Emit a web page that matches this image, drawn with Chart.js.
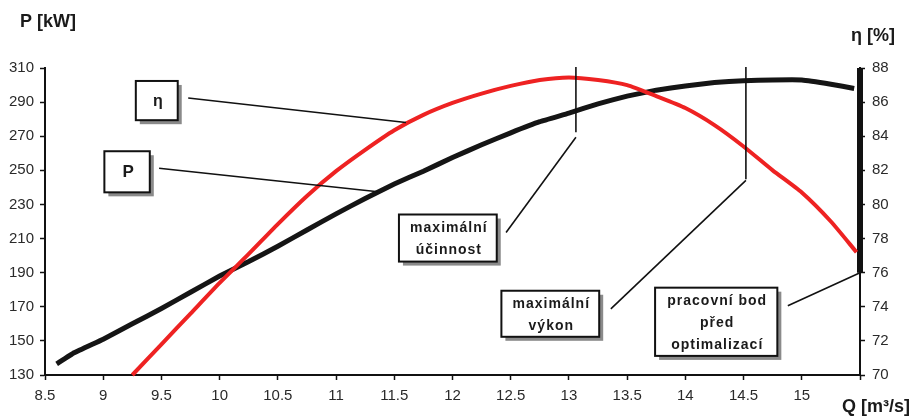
<!DOCTYPE html>
<html lang="cs">
<head>
    <meta charset="UTF-8">
    <title>P a η v závislosti na Q</title>
    <script src="https://cdn.jsdelivr.net/npm/chart.js"></script>
    <style>
        body { margin: 0; background: #fff; }
        canvas { display: block; }
    </style>
</head>
<body>
    <canvas id="chart" width="912" height="416"></canvas>

    <script>
        // prutok Q [m3/s] a vykon P [kW] (cerna krivka)
        const qVykon = [8.6, 8.75, 9.0, 9.25, 9.5, 9.75, 10.0, 10.25, 10.5, 10.75, 11.0, 11.25, 11.5, 11.75,
                        12.0, 12.25, 12.5, 12.75, 13.0, 13.25, 13.5, 13.75, 14.0, 14.25, 14.5, 14.75, 15.0, 15.25, 15.45];
        const vykon = [136.5, 143, 151, 160, 169, 178.5, 188, 196.5, 205.5, 215, 224.5, 233.5, 242, 249.5,
                       257.5, 265, 272, 278.5, 283.5, 289, 293.5, 297, 299.5, 301.5, 302.5, 303, 303, 300.5, 298];

        // prutok Q [m3/s] a ucinnost η [%] (cervena krivka)
        const qUcinnost = [9.25, 9.5, 9.75, 10.0, 10.25, 10.5, 10.75, 11.0, 11.25, 11.5, 11.75, 12.0, 12.25,
                           12.5, 12.75, 13.0, 13.25, 13.5, 13.75, 14.0, 14.25, 14.5, 14.75, 15.0, 15.25, 15.47];
        const ucinnost = [70.0, 71.8, 73.6, 75.4, 77.1, 78.85, 80.5, 81.95, 83.2, 84.35, 85.25, 85.95, 86.5,
                          86.95, 87.3, 87.45, 87.3, 87.0, 86.35, 85.65, 84.65, 83.4, 82.0, 80.7, 79.0, 77.2];

        // pracovni bod pred optimalizaci (silna cara na prave ose)
        const qPracovni = [15.5, 15.5];
        const ucinnostPracovni = [76, 88];

        // osy
        const osaQ = { min: 8.5, max: 15.5, krok: 0.5 };
        const osaP = { min: 130, max: 310, krok: 20 };
        const osaEta = { min: 70, max: 88, krok: 2 };

        const pismo = "Arial, 'Liberation Sans', sans-serif";

        function body(xs, ys) {
            return xs.map((x, i) => ({ x: x, y: ys[i] }));
        }

        // popisky se stinem (souradnice v jednotkach Q a P)
        const popisky = [
            { text: ['η'], box: [9.28, 9.64, 302.4, 279.4], velikost: 16,
              cara: [9.73, 292.4, 11.6, 84.8, 'y1'] },
            { text: ['P'], box: [9.01, 9.40, 261.2, 237.1], velikost: 17,
              cara: [9.48, 251.2, 11.36, 237.4, 'y'] },
            { text: ['maximální', 'účinnost'], box: [11.54, 12.38, 224.1, 196.5], velikost: 14,
              cara: [12.46, 213.5, 13.06, 269.4, 'y'], svisla: [13.06, 310.6, 272.4] },
            { text: ['maximální', 'výkon'], box: [12.42, 13.26, 179.4, 152.4], velikost: 14,
              cara: [13.36, 168.8, 14.52, 244.1, 'y'], svisla: [14.52, 310.6, 244.7] },
            { text: ['pracovní bod', 'před', 'optimalizací'], box: [13.74, 14.79, 181.2, 141.2], velikost: 14,
              cara: [14.88, 170.6, 15.5, 76, 'y1'] }
        ];

        const popiskyPlugin = {
            id: 'popisky',
            afterDatasetsDraw(chart) {
                const ctx = chart.ctx;
                const sx = chart.scales.x;
                const sy = chart.scales.y;
                const osy = { y: sy, y1: chart.scales.y1 };
                ctx.save();
                popisky.forEach(p => {
                    ctx.strokeStyle = '#111';
                    ctx.lineWidth = 1.6;
                    ctx.beginPath();
                    ctx.moveTo(sx.getPixelForValue(p.cara[0]), sy.getPixelForValue(p.cara[1]));
                    ctx.lineTo(sx.getPixelForValue(p.cara[2]), osy[p.cara[4]].getPixelForValue(p.cara[3]));
                    ctx.stroke();
                    if (p.svisla) {
                        const vx = sx.getPixelForValue(p.svisla[0]);
                        ctx.beginPath();
                        ctx.moveTo(vx, sy.getPixelForValue(p.svisla[1]));
                        ctx.lineTo(vx, sy.getPixelForValue(p.svisla[2]));
                        ctx.stroke();
                    }

                    const x1 = sx.getPixelForValue(p.box[0]);
                    const x2 = sx.getPixelForValue(p.box[1]);
                    const y1 = sy.getPixelForValue(p.box[2]);
                    const y2 = sy.getPixelForValue(p.box[3]);
                    // stin
                    ctx.fillStyle = '#8a8a8a';
                    ctx.fillRect(x1 + 4, y1 + 4, x2 - x1, y2 - y1);
                    ctx.fillStyle = '#fff';
                    ctx.fillRect(x1, y1, x2 - x1, y2 - y1);
                    ctx.lineWidth = 2;
                    ctx.strokeStyle = '#111';
                    ctx.strokeRect(x1, y1, x2 - x1, y2 - y1);

                    ctx.fillStyle = '#1a1a1a';
                    ctx.font = 'bold ' + p.velikost + 'px ' + pismo;
                    ctx.letterSpacing = p.text[0].length > 1 ? '1px' : '0px';
                    ctx.textAlign = 'center';
                    ctx.textBaseline = 'middle';
                    const radek = 22;
                    const stred = (y1 + y2) / 2 - (p.text.length - 1) * radek / 2;
                    p.text.forEach((t, i) => {
                        ctx.fillText(t, (x1 + x2) / 2 + 1, stred + i * radek + 1);
                    });
                });

                // nazvy os
                ctx.letterSpacing = '0px';
                ctx.fillStyle = '#1a1a1a';
                ctx.font = 'bold 18px ' + pismo;
                ctx.textBaseline = 'alphabetic';
                ctx.textAlign = 'left';
                ctx.fillText('P [kW]', 20, 27);
                ctx.textAlign = 'right';
                ctx.fillText('η [%]', 895, 41);
                ctx.fillText('Q [m³/s]', 910, 412);
                ctx.restore();
            }
        };

        const osaStyl = {
            border: { display: true, color: '#111', width: 2 },
            grid: { display: true, drawOnChartArea: false, drawTicks: true, tickLength: 5, tickColor: '#111', tickWidth: 1.5 },
            ticks: { color: '#2a2a2a', font: { family: pismo, size: 15 } }
        };

        new Chart(document.getElementById('chart'), {
            type: 'line',
            data: {
                datasets: [{
                    label: 'pracovní bod',
                    data: body(qPracovni, ucinnostPracovni),
                    yAxisID: 'y1',
                    borderColor: '#111',
                    borderWidth: 6,
                    pointRadius: 0,
                    clip: false,
                    order: 3
                }, {
                    label: 'η',
                    data: body(qUcinnost, ucinnost),
                    yAxisID: 'y1',
                    borderColor: '#ee2222',
                    borderWidth: 4,
                    pointRadius: 0,
                    tension: 0.2,
                    clip: false,
                    order: 1
                }, {
                    label: 'P',
                    data: body(qVykon, vykon),
                    yAxisID: 'y',
                    borderColor: '#151515',
                    borderWidth: 5,
                    pointRadius: 0,
                    tension: 0.1,
                    clip: false,
                    order: 2
                }]
            },
            options: {
                responsive: false,
                animation: false,
                layout: { padding: { top: 68, left: 0, right: 0, bottom: 0 } },
                plugins: {
                    legend: { display: false },
                    tooltip: { enabled: false }
                },
                scales: {
                    x: {
                        ...osaStyl,
                        type: 'linear',
                        min: osaQ.min,
                        max: osaQ.max,
                        afterFit(scale) { scale.height = 41; },
                        ticks: {
                            ...osaStyl.ticks,
                            stepSize: osaQ.krok,
                            padding: 7,
                            maxRotation: 0,
                            autoSkip: false,
                            callback: v => v === osaQ.max ? '' : String(v)
                        }
                    },
                    y: {
                        ...osaStyl,
                        position: 'left',
                        min: osaP.min,
                        max: osaP.max,
                        afterFit(scale) { scale.width = 45; },
                        ticks: { ...osaStyl.ticks, stepSize: osaP.krok, padding: 6 }
                    },
                    y1: {
                        ...osaStyl,
                        position: 'right',
                        min: osaEta.min,
                        max: osaEta.max,
                        afterFit(scale) { scale.width = 52; },
                        ticks: { ...osaStyl.ticks, stepSize: osaEta.krok, padding: 7 }
                    }
                }
            },
            plugins: [popiskyPlugin]
        });
    </script>
</body>
</html>
